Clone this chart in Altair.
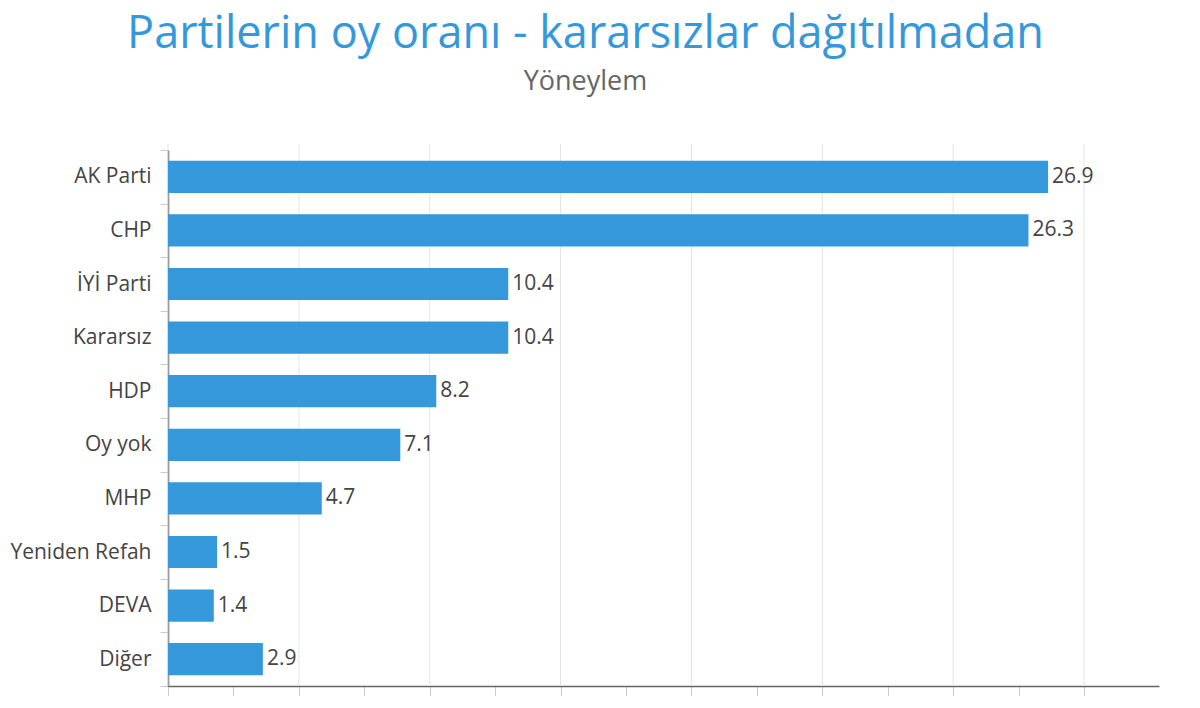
import altair as alt
import pandas as pd

parties = ["AK Parti", "CHP", "İYİ Parti", "Kararsız", "HDP", "Oy yok", "MHP",
           "Yeniden Refah", "DEVA", "Diğer"]
values = [26.9, 26.3, 10.4, 10.4, 8.2, 7.1, 4.7, 1.5, 1.4, 2.9]
grid_values = [0, 4, 8, 12, 16, 20, 24, 28]
tick_values = [0, 2, 4, 6, 8, 10, 12, 14, 16, 18, 20, 22, 24, 26, 28]

df = pd.DataFrame({"party": parties, "value": values})
gdf = pd.DataFrame({"g": grid_values})

W, H = 991, 536
FONT = "Open Sans"
xscale = alt.Scale(domain=[0, 30.29], nice=False, zero=True)
yscale = alt.Scale(paddingInner=0, paddingOuter=0)

xaxis = alt.Axis(
    title=None,
    values=tick_values,
    labels=False,
    grid=False,
    ticks=True,
    tickSize=9,
    tickColor="#c8c8c8",
    tickWidth=1,
    domain=True,
    domainColor="#666666",
    domainWidth=1.5,
)
yaxis = alt.Axis(
    title=None,
    tickBand="extent",
    ticks=True,
    tickSize=8,
    tickColor="#c8c8c8",
    tickWidth=1,
    labelPadding=9,
    labelFont=FONT,
    labelFontSize=21,
    labelColor="#444444",
    domain=True,
    domainColor="#555555",
    domainWidth=1.5,
)

grid = alt.Chart(gdf).mark_rule(color="#e3e3e3", strokeWidth=1).encode(
    x=alt.X("g:Q", scale=xscale, axis=xaxis),
    y=alt.value(-6),
    y2=alt.value(H),
)

bars = alt.Chart(df).mark_bar(color="#3498db", height=alt.RelativeBandSize(0.6)).encode(
    x=alt.X("value:Q", scale=xscale, axis=xaxis),
    y=alt.Y("party:N", sort=parties, scale=yscale, axis=yaxis),
)

text = alt.Chart(df).mark_text(
    align="left", baseline="middle", dx=4, font=FONT, fontSize=21, color="#444444"
).encode(
    x=alt.X("value:Q", scale=xscale, axis=xaxis),
    y=alt.Y("party:N", sort=parties, scale=yscale, axis=yaxis),
    text=alt.Text("value:Q", format=".1f"),
)

chart = alt.layer(grid, bars, text).properties(
    width=W,
    height=H,
    background="white",
    autosize=alt.AutoSizeParams(type="none"),
    padding={"left": 168, "top": 150, "right": 41, "bottom": 22},
    title=alt.TitleParams(
        text="Partilerin oy oranı - kararsızlar dağıtılmadan",
        subtitle="Yöneylem",
        anchor="middle",
        dx=-78,
        font=FONT,
        fontSize=45,
        fontWeight="normal",
        color="#3498db",
        subtitleFont=FONT,
        subtitleFontSize=27,
        subtitleColor="#666666",
        subtitlePadding=12,
        offset=44,
    ),
).configure_view(strokeWidth=0)

chart.save("out.html", embed_options={"renderer": "svg", "actions": False})
